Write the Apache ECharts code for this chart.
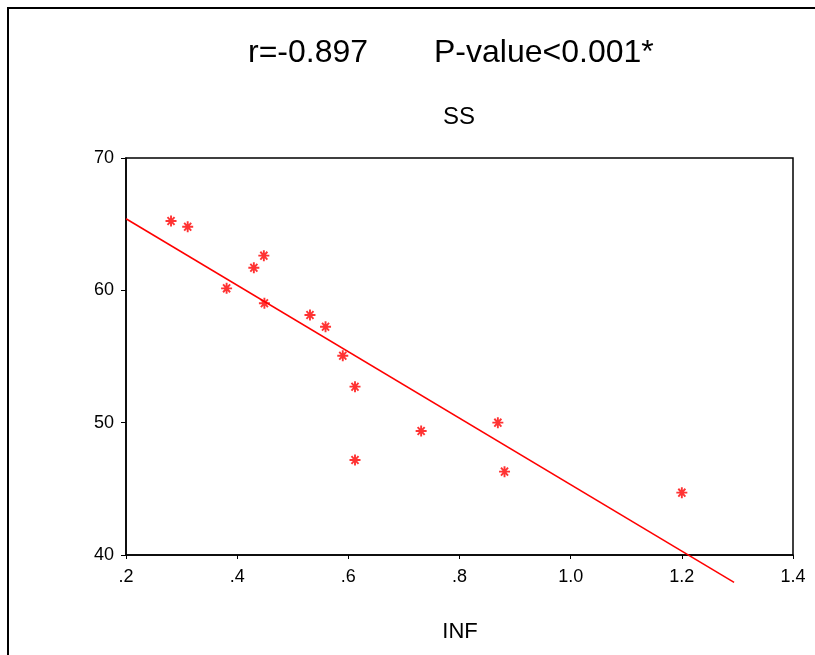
<!DOCTYPE html>
<html>
<head>
<meta charset="utf-8">
<script src="https://cdn.jsdelivr.net/npm/echarts@6/dist/echarts.min.js"></script>
<style>
html,body{margin:0;padding:0;background:#fff;}
#c{width:815px;height:655px;}
</style>
</head>
<body>
<div id="c"></div>
<script>
// Data
const infValues = [0.281, 0.311, 0.381, 0.430, 0.448, 0.449, 0.531, 0.559, 0.590, 0.612, 0.612, 0.731, 0.869, 0.881, 1.200];
const ssValues  = [65.24, 64.81, 60.15, 61.71, 62.62, 59.02, 58.14, 57.25, 55.06, 52.72, 47.18, 49.37, 50.00, 46.30, 44.71];
const fitLineX = [0.2, 1.294];
const fitLineY = [65.41, 37.93];
const xTickLabels = ['.2', '.4', '.6', '.8', '1.0', '1.2', '1.4'];
const yTickLabels = ['40', '50', '60', '70'];
const titleLeft = 'r=-0.897';
const titleRight = 'P-value<0.001*';
const subTitle = 'SS';
const xName = 'INF';

const FONT = '"Liberation Sans", Arial, sans-serif';
const chart = echarts.init(document.getElementById('c'), null, {renderer: 'canvas'});

const pts = infValues.map((x, i) => [x, ssValues[i]]);
const fit = fitLineX.map((x, i) => [x, fitLineY[i]]);

const star = 'path://M0 5 L10 5 M5 0.5 L5 9.5 M1.8 1.8 L8.2 8.2 M8.2 1.8 L1.8 8.2';

chart.setOption({
  backgroundColor: '#fff',
  animation: false,
  grid: {left: 126, right: 22, top: 158, bottom: 100, show: true, borderColor: '#000', borderWidth: 1.5, backgroundColor: 'transparent'},
  xAxis: {
    type: 'value', min: 0.2, max: 1.4, interval: 0.2,
    axisLine: {show: true, lineStyle: {color: '#000', width: 1.5}},
    axisTick: {show: true, length: 4, lineStyle: {color: '#000', width: 1}},
    splitLine: {show: false},
    axisLabel: {
      color: '#000', fontSize: 18, fontFamily: FONT, margin: 13,
      formatter: v => xTickLabels[Math.round((v - 0.2) / 0.2)] || ''
    }
  },
  yAxis: {
    type: 'value', min: 40, max: 70, interval: 10,
    axisLine: {show: true, lineStyle: {color: '#000', width: 1.5}},
    axisTick: {show: true, length: 5, lineStyle: {color: '#000', width: 1}},
    splitLine: {show: false},
    axisLabel: {
      color: '#000', fontSize: 18, fontFamily: FONT, margin: 12,
      formatter: v => yTickLabels[Math.round((v - 40) / 10)] || ''
    }
  },
  series: [
    {
      type: 'line', data: fit, symbol: 'none', clip: false,
      lineStyle: {color: '#ff0000', width: 1.5}, z: 2
    },
    {
      type: 'scatter', data: pts, symbol: star, symbolSize: 11,
      itemStyle: {color: 'rgba(0,0,0,0)', borderColor: '#ff0000', borderWidth: 1.9},
      z: 3
    }
  ],
  graphic: [
    {type: 'polyline', shape: {points: [[8, 655], [8, 8], [815, 8]]}, style: {stroke: '#000', lineWidth: 2, fill: null}},
    {type: 'text', x: 248, y: 53, style: {text: titleLeft, font: '32px ' + FONT, fill: '#000', textAlign: 'left', textVerticalAlign: 'middle'}},
    {type: 'text', x: 434, y: 53, style: {text: titleRight, font: '32px ' + FONT, fill: '#000', textAlign: 'left', textVerticalAlign: 'middle'}},
    {type: 'text', x: 459, y: 117, style: {text: subTitle, font: '24px ' + FONT, fill: '#000', textAlign: 'center', textVerticalAlign: 'middle'}},
    {type: 'text', x: 460, y: 632, style: {text: xName, font: '22px ' + FONT, fill: '#000', textAlign: 'center', textVerticalAlign: 'middle'}}
  ]
});
</script>
</body>
</html>
